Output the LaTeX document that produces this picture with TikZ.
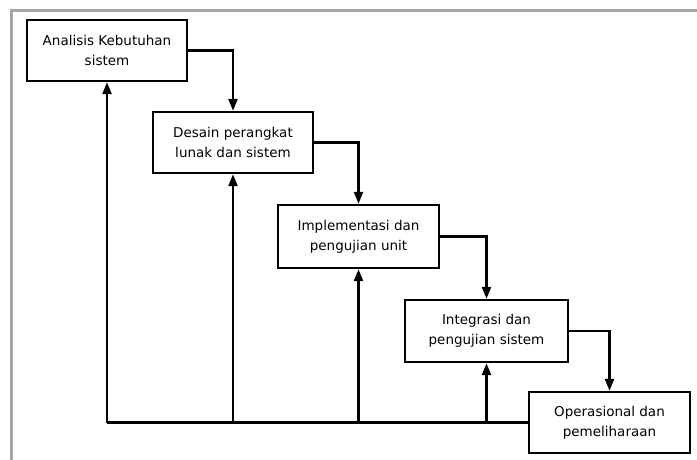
\documentclass[tikz,border=0pt]{standalone}
\usepackage{fontspec}
\setmainfont{DejaVu Sans}
\usetikzlibrary{arrows.meta}

\tikzset{
    tahap/.style = {draw, line width = 2.4pt, minimum width = 160pt, minimum height = 61pt,
        align = center, font = \fontsize{13.5}{20}\selectfont, inner sep = 2pt},
    alur/.style = {line width = 2.4pt, -{Triangle[width = 9pt, length = 12pt]}},
}

\begin{document}
\begin{tikzpicture}[x = 1pt, y = -1pt]%
    \useasboundingbox (0, 0) rectangle (697, 460);
    \draw[line width = 2.4pt, gray!70] (697, 10.5) -- (11.5, 10.5) -- (11.5, 460);
    \node[tahap] (analisis) at (107, 50.5) {Analisis Kebutuhan\\sistem};
    \node[tahap] (desain) at (233, 142.5) {Desain perangkat\\lunak dan sistem};
    \node[tahap, minimum width = 161pt, minimum height = 63pt] (implementasi) at (358.5, 236.5) {Implementasi dan\\pengujian unit};
    \node[tahap, minimum width = 163pt, minimum height = 62pt] (integrasi) at (486.5, 331) {Integrasi dan\\pengujian sistem};
    \node[tahap, minimum width = 161pt] (operasional) at (609.5, 422.5) {Operasional dan\\pemeliharaan};
    \draw[alur] (analisis.east) -| (desain.north);
    \draw[alur] (desain.east) -| (implementasi.north);
    \draw[alur] (implementasi.east) -| (integrasi.north);
    \draw[alur] (integrasi.east) -| (operasional.north);
    \draw[line width = 2.4pt] (operasional.west) -- (analisis.south |- operasional.west);
    \foreach \t in {analisis, desain, implementasi, integrasi}
        \draw[alur] (\t.south |- operasional.west) -- (\t.south);
\end{tikzpicture}
\end{document}
